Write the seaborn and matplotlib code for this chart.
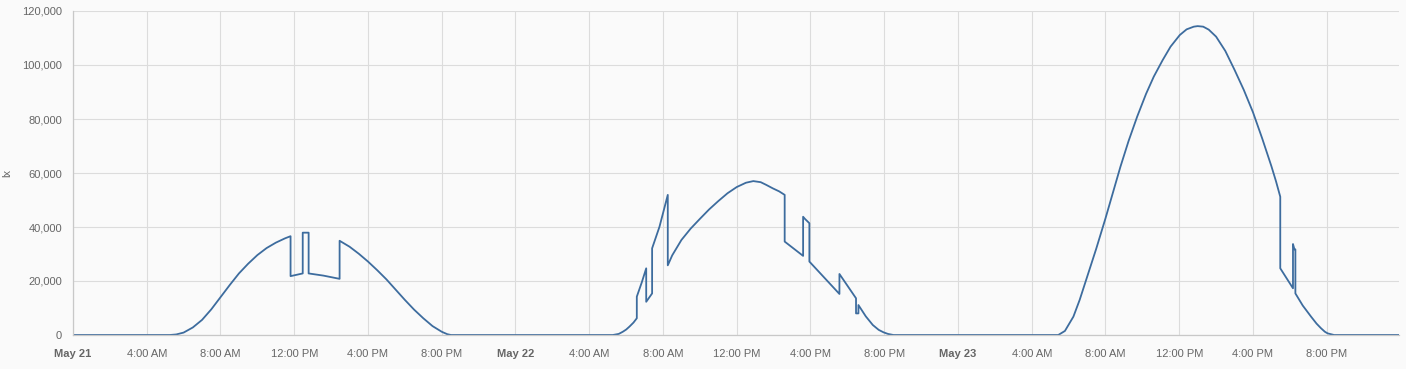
import matplotlib
matplotlib.use("Agg")
import matplotlib.pyplot as plt
import seaborn as sns
import pandas as pd

# ---- data (hours since local midnight, lux in thousands) ----
may21_hours = [0, 5.25, 5.6, 6, 6.5, 7, 7.5, 8, 8.5, 9, 9.5, 10, 10.5, 11, 11.5, 11.8, 11.8,
               12.46, 12.46, 12.78, 12.78, 13.58, 14.46, 14.46, 15, 15.5, 16, 16.5, 17, 17.5,
               18, 18.5, 19, 19.5, 20, 20.3, 20.5]
may21_klux = [0, 0, 0.2, 0.9, 2.8, 5.6, 9.5, 14, 18.5, 22.8, 26.4, 29.6, 32.2, 34.2, 35.8, 36.6,
              21.8, 22.8, 37.9, 37.9, 22.8, 22.0, 20.8, 34.9, 32.7, 30.1, 27.2, 24.0, 20.6, 16.8,
              13.0, 9.4, 6.2, 3.3, 1.2, 0.3, 0]

may22_hours = [5.28, 5.6, 5.82, 6.0, 6.18, 6.4, 6.58, 6.58, 6.85, 7.09, 7.09, 7.41, 7.41, 7.81,
               8.26, 8.26, 8.5, 9, 9.5, 10, 10.5, 11, 11.5, 12, 12.5, 12.9, 13.3, 13.6, 13.96,
               14.3, 14.6, 14.6, 15.6, 15.6, 15.7, 15.94, 15.94, 17.57, 17.57, 18.47, 18.47,
               18.6, 18.6, 19.0, 19.38, 19.7, 19.96, 20.2, 20.5]
may22_klux = [0, 0.4, 1.2, 2.0, 3.1, 4.6, 6.2, 14.2, 19.5, 24.7, 12.3, 15.4, 32.1, 40.1,
              51.9, 25.8, 29.5, 35.2, 39.4, 43.0, 46.5, 49.6, 52.5, 54.8, 56.4, 57.0, 56.6,
              55.6, 54.3, 53.2, 51.9, 34.6, 29.3, 43.8, 43.0, 41.4, 27.2, 15.2, 22.6, 13.6,
              8.0, 8.0, 11.1, 6.9, 3.7, 1.9, 1.0, 0.4, 0]

may23_hours = [5.44, 5.8, 6.26, 6.6, 6.98, 7.5, 8.0, 8.4, 8.81, 9.25, 9.72, 10.2, 10.62, 11.1,
               11.53, 12.03, 12.4, 12.79, 13.0, 13.3, 13.6, 14.0, 14.5, 15.0, 15.5, 16.0, 16.5,
               17.0, 17.25, 17.48, 17.48, 18.17, 18.17, 18.25, 18.3, 18.3, 18.7, 19.15, 19.45,
               19.69, 19.9, 20.05, 20.4, 23.92]
may23_klux = [0, 1.5, 6.8, 13.0, 21.0, 32.0, 43.2, 52.6, 62.3, 71.8, 80.9, 89.3, 95.7, 101.8,
              106.8, 111.1, 113.2, 114.2, 114.4, 114.2, 113.1, 110.5, 105.2, 98.2, 90.8, 82.5,
              72.8, 62.5, 56.9, 51.2, 24.7, 17.3, 33.7, 31.7, 31.7, 15.4, 10.9, 6.8, 4.2,
              2.5, 1.2, 0.6, 0, 0]

day_starts = ["2024-05-21", "2024-05-22", "2024-05-23"]
y_ticks = [0, 20000, 40000, 60000, 80000, 100000, 120000]
x_tick_labels = ["May 21", "4:00 AM", "8:00 AM", "12:00 PM", "4:00 PM", "8:00 PM",
                 "May 22", "4:00 AM", "8:00 AM", "12:00 PM", "4:00 PM", "8:00 PM",
                 "May 23", "4:00 AM", "8:00 AM", "12:00 PM", "4:00 PM", "8:00 PM"]

# ---- build table ----
frames = []
for day, hrs, kl in zip(day_starts, [may21_hours, may22_hours, may23_hours],
                        [may21_klux, may22_klux, may23_klux]):
    base = pd.Timestamp(day)
    frames.append(pd.DataFrame({
        "time": [base + pd.Timedelta(hours=h) for h in hrs],
        "lux": [v * 1000 for v in kl],
    }))
df = pd.concat(frames, ignore_index=True)

# ---- plot ----
sns.set_theme(style="whitegrid")
plt.rcParams['font.family'] = ['Liberation Sans', 'DejaVu Sans']

W, H = 1406, 369
fig = plt.figure(figsize=(W / 100, H / 100), dpi=100, facecolor="#fafafa")
ax = fig.add_axes([73 / W, 1 - 335 / H, (1399 - 73) / W, (335 - 11) / H])
ax.set_facecolor("#fafafa")

sns.lineplot(data=df, x="time", y="lux", ax=ax, estimator=None, sort=False,
             color="#3d6c9e", linewidth=1.3)

start = pd.Timestamp(day_starts[0])
ax.set_xlim(start, start + pd.Timedelta(hours=71.92))
ax.set_ylim(0, 120000)

xticks = pd.date_range(start, periods=len(x_tick_labels), freq="4h")
ax.set_xticks(xticks)
ax.set_xticklabels(x_tick_labels)
for lbl, txt in zip(ax.get_xticklabels(), x_tick_labels):
    if txt.startswith("May"):
        lbl.set_fontweight("bold")
        lbl.set_color("#555555")

ax.set_yticks(y_ticks)
ax.set_yticklabels([f"{v:,}" for v in y_ticks])

ax.grid(True, color="#dcdcdc", linewidth=0.8)
ax.tick_params(axis="both", labelsize=8, labelcolor="#666666", color="#c8c8c8",
               length=6, width=0.8)
ax.tick_params(axis="y", pad=2)
ax.tick_params(axis="x", pad=4)
for side in ["top", "right"]:
    ax.spines[side].set_visible(False)
for side in ["left", "bottom"]:
    ax.spines[side].set_color("#c8c8c8")
    ax.spines[side].set_linewidth(0.9)

ax.set_xlabel("")
ax.set_ylabel("lx", fontsize=8, color="#666666")
ax.yaxis.set_label_coords((12 - 73) / (1399 - 73), 0.5)

fig.savefig("out.png", dpi=100, facecolor=fig.get_facecolor())
